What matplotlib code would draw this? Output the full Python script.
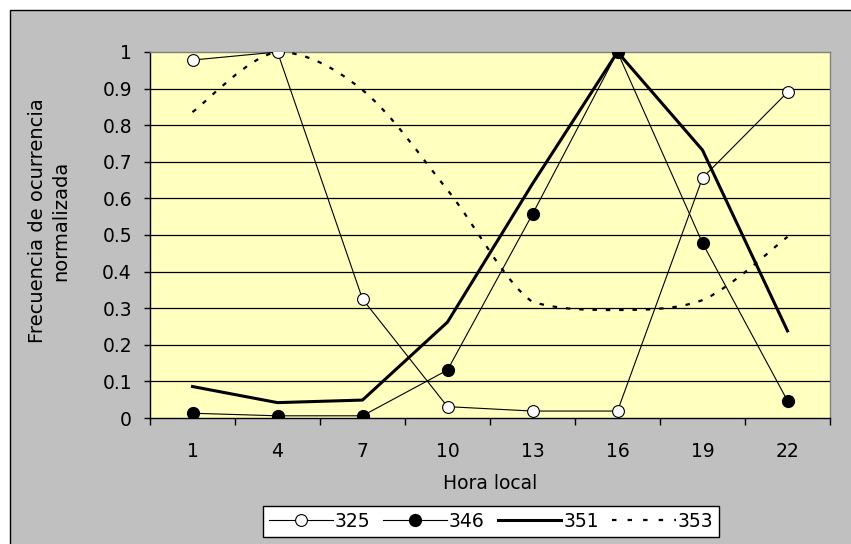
import matplotlib
matplotlib.use("Agg")
import matplotlib.pyplot as plt
from matplotlib.lines import Line2D
from matplotlib.patches import PathPatch, Rectangle
from matplotlib.path import Path

hours = ["1", "4", "7", "10", "13", "16", "19", "22"]
serie_325 = [0.978, 1.0, 0.325, 0.031, 0.019, 0.019, 0.656, 0.89]
serie_346 = [0.013, 0.006, 0.006, 0.131, 0.557, 1.0, 0.478, 0.047]
serie_351 = [0.086, 0.042, 0.049, 0.262, 0.64, 1.0, 0.732, 0.238]
serie_353 = [0.836, 1.0, 0.896, 0.623, 0.317, 0.295, 0.322, 0.495]
yticks = [0, 0.1, 0.2, 0.3, 0.4, 0.5, 0.6, 0.7, 0.8, 0.9, 1]


def smooth_path(xs, ys):
    # curva suavizada (Bezier cubicas), sin pasarse de los puntos vecinos
    pts = list(zip(xs, ys))
    n = len(pts)
    verts = [pts[0]]
    codes = [Path.MOVETO]
    for i in range(n - 1):
        p0 = pts[max(i - 1, 0)]
        p1 = pts[i]
        p2 = pts[i + 1]
        p3 = pts[min(i + 2, n - 1)]
        lo, hi = min(p1[1], p2[1]), max(p1[1], p2[1])
        c1y = min(max(p1[1] + (p2[1] - p0[1]) / 6, lo), hi)
        c2y = min(max(p2[1] - (p3[1] - p1[1]) / 6, lo), hi)
        c1 = (p1[0] + (p2[0] - p0[0]) / 6, c1y)
        c2 = (p2[0] - (p3[0] - p1[0]) / 6, c2y)
        verts += [c1, c2, p2]
        codes += [Path.CURVE4] * 3
    return Path(verts, codes)


plt.rcParams['font.family'] = ['DejaVu Sans']
fig = plt.figure(figsize=(8.51, 5.44), dpi=100)
fig.patch.set_facecolor('white')

# fondo gris del grafico
fig.patches.append(Rectangle((9.5 / 851, -0.05), 1.1, 1.05 - 9.5 / 544,
                             transform=fig.transFigure, facecolor='#c0c0c0',
                             edgecolor='black', linewidth=1, zorder=-1))

ax = fig.add_axes([150 / 851, 126 / 544, 680 / 851, 366 / 544])
ax.set_zorder(1)
ax.set_facecolor('#ffffc0')

x = [i + 0.5 for i in range(len(hours))]

for y in yticks[1:-1]:
    ax.axhline(y, color='black', linewidth=0.9, zorder=1)

dash = (0, (2, 4))
ms = 8.5
ax.plot(x, serie_351, color='black', linewidth=2.2, zorder=3)
ax.add_patch(PathPatch(smooth_path(x, serie_353), facecolor='none', edgecolor='black',
                       linewidth=1.6, linestyle=dash, capstyle='butt', zorder=3))
ax.plot(x, serie_325, color='black', linewidth=0.8, marker='o', markersize=ms,
        markerfacecolor='white', markeredgecolor='black', markeredgewidth=0.8, zorder=4)
ax.plot(x, serie_346, color='black', linewidth=0.8, marker='o', markersize=ms,
        markerfacecolor='black', markeredgecolor='black', zorder=4)

ax.set_xlim(0, len(hours))
ax.set_ylim(0, 1)
ax.set_yticks(yticks)
ax.set_yticklabels([f'{v:g}' for v in yticks])
ax.set_xticks(range(len(hours) + 1))
ax.set_xticklabels([])
ax.set_xticks(x, minor=True)
ax.set_xticklabels(hours, minor=True)

ax.tick_params(axis='y', direction='out', length=4.5, width=1, pad=8.5, labelsize=13.5)
ax.tick_params(axis='x', which='major', direction='out', length=5, width=1)
ax.tick_params(axis='x', which='minor', length=0, pad=17, labelsize=13.5)

for side in ['top', 'right']:
    ax.spines[side].set_color('#808080')
    ax.spines[side].set_linewidth(1)
for side in ['left', 'bottom']:
    ax.spines[side].set_color('black')
    ax.spines[side].set_linewidth(1)

ax.set_xlabel('Hora local', fontsize=13.5, va='center')
ax.xaxis.set_label_coords(0.5, -0.178)
fig.text(49 / 851, 1 - 221 / 544, 'Frecuencia de ocurrencia\nnormalizada', rotation=90,
         ha='center', va='center', multialignment='center', fontsize=14,
         linespacing=1.3)

handles = [
    Line2D([], [], color='black', linewidth=0.8, marker='o', markersize=ms,
           markerfacecolor='white', markeredgewidth=0.8),
    Line2D([], [], color='black', linewidth=0.8, marker='o', markersize=ms,
           markerfacecolor='black'),
    Line2D([], [], color='black', linewidth=2.2),
    Line2D([], [], color='black', linewidth=1.6, linestyle=(0, (2, 5))),
]
leg = fig.legend(handles, ['325', '346', '351', '353'], loc='center',
                 bbox_to_anchor=(491 / 851, 1 - 521.5 / 544), ncol=4, fontsize=13.5,
                 handlelength=3.4, handletextpad=0.1, columnspacing=0.7,
                 borderpad=0.3, fancybox=False, framealpha=1)
leg.get_frame().set_edgecolor('black')
leg.get_frame().set_linewidth(1)

plt.savefig('out.png', dpi=100, facecolor=fig.get_facecolor())
plt.close()
